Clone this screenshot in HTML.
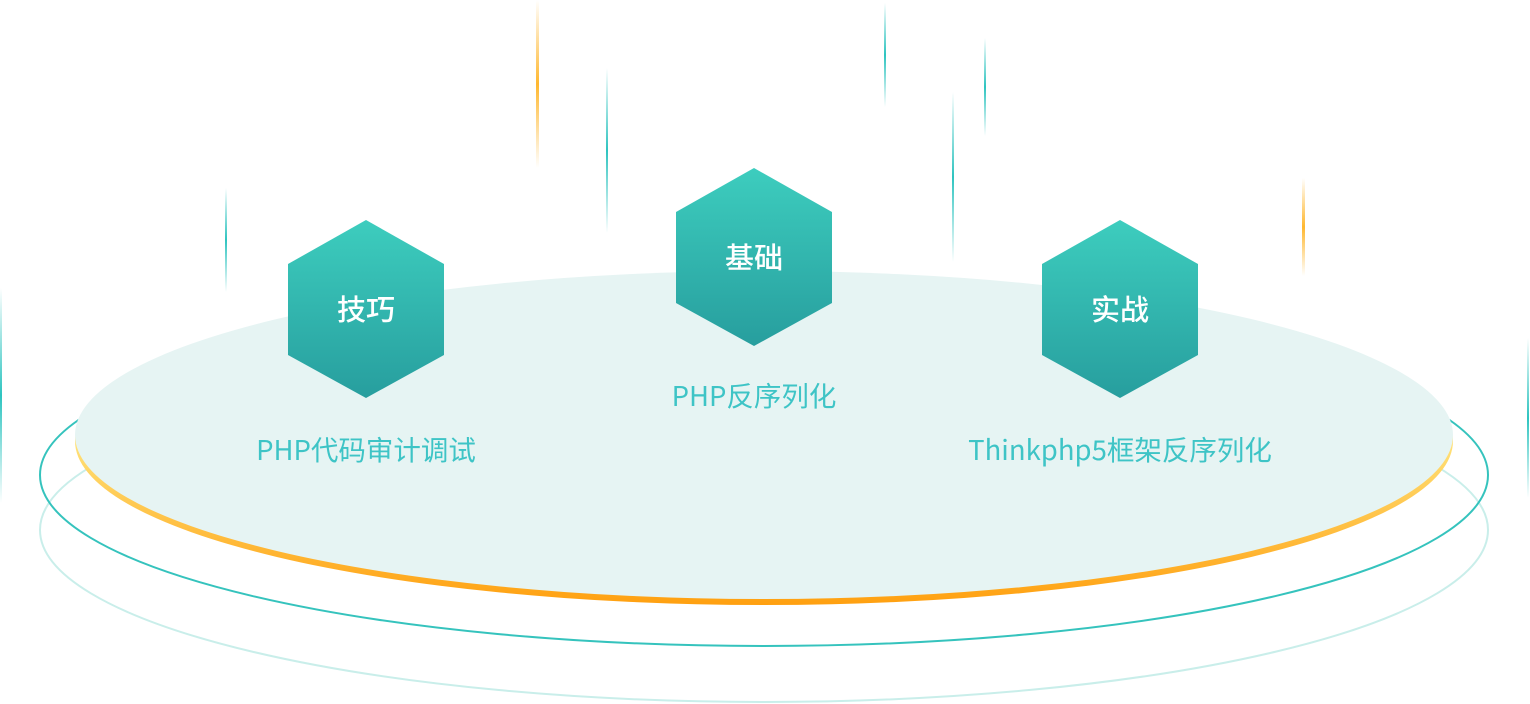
<!DOCTYPE html>
<html><head><meta charset="utf-8">
<style>
html,body{margin:0;padding:0;background:#fff;}
svg{display:block;}
text{font-family:"Noto Sans CJK SC","Liberation Sans",sans-serif;}
</style></head>
<body>
<svg width="1530" height="704" viewBox="0 0 1530 704" xmlns="http://www.w3.org/2000/svg">
<defs>
<linearGradient id="rim" x1="0" y1="0" x2="0" y2="1">
<stop offset="0.5" stop-color="#ffe27a"/><stop offset="1" stop-color="#ffa010"/>
</linearGradient>
<linearGradient id="hex" x1="0" y1="0" x2="0" y2="1">
<stop offset="0" stop-color="#3dcdbe"/><stop offset="1" stop-color="#279e9e"/>
</linearGradient>
<linearGradient id="lt" x1="0" y1="0" x2="0" y2="1">
<stop offset="0" stop-color="#2ec4c0" stop-opacity="0"/><stop offset="0.5" stop-color="#2ec4c0"/><stop offset="1" stop-color="#2ec4c0" stop-opacity="0"/>
</linearGradient>
<linearGradient id="lo" x1="0" y1="0" x2="0" y2="1">
<stop offset="0" stop-color="#ffb830" stop-opacity="0"/><stop offset="0.5" stop-color="#ffb830"/><stop offset="1" stop-color="#ffb830" stop-opacity="0"/>
</linearGradient>
</defs>
<ellipse cx="764" cy="530" rx="724" ry="172" fill="none" stroke="#c9eeea" stroke-width="2"/>
<ellipse cx="764" cy="475" rx="724" ry="171" fill="none" stroke="#35c3bd" stroke-width="2"/>
<ellipse cx="764" cy="441" rx="689" ry="164" fill="url(#rim)"/>
<ellipse cx="764" cy="435" rx="689" ry="164" fill="#e6f4f3"/>

<rect x="536" y="0" width="3" height="168" fill="url(#lo)"/>
<rect x="1302" y="178" width="3" height="98" fill="url(#lo)"/>
<rect x="606" y="68" width="2" height="165" fill="url(#lt)"/>
<rect x="884" y="3" width="2" height="104" fill="url(#lt)"/>
<rect x="984" y="38" width="2" height="98" fill="url(#lt)"/>
<rect x="952" y="92" width="2" height="170" fill="url(#lt)"/>
<rect x="225" y="188" width="2" height="104" fill="url(#lt)"/>
<rect x="0" y="288" width="2" height="215" fill="url(#lt)"/>
<rect x="1527" y="338" width="2" height="160" fill="url(#lt)"/>

<polygon points="366,220 444,264 444,355 366,398 288,355 288,264" fill="url(#hex)"/>
<polygon points="754,168 832,212 832,303 754,346 676,303 676,212" fill="url(#hex)"/>
<polygon points="1120,220 1198,264 1198,355 1120,398 1042,355 1042,264" fill="url(#hex)"/>
<text x="366" y="320" font-size="29" fill="#fff" text-anchor="middle" font-weight="500">技巧</text>
<text x="754" y="268" font-size="29" fill="#fff" text-anchor="middle" font-weight="500">基础</text>
<text x="1120" y="320" font-size="29" fill="#fff" text-anchor="middle" font-weight="500">实战</text>

<text x="366" y="460" font-size="27.5" fill="#3ec4c6" text-anchor="middle">PHP代码审计调试</text>
<text x="754" y="406" font-size="27.5" fill="#3ec4c6" text-anchor="middle">PHP反序列化</text>
<text x="1120" y="460" font-size="27.5" fill="#3ec4c6" text-anchor="middle">Thinkphp5框架反序列化</text>
</svg>
</body></html>
